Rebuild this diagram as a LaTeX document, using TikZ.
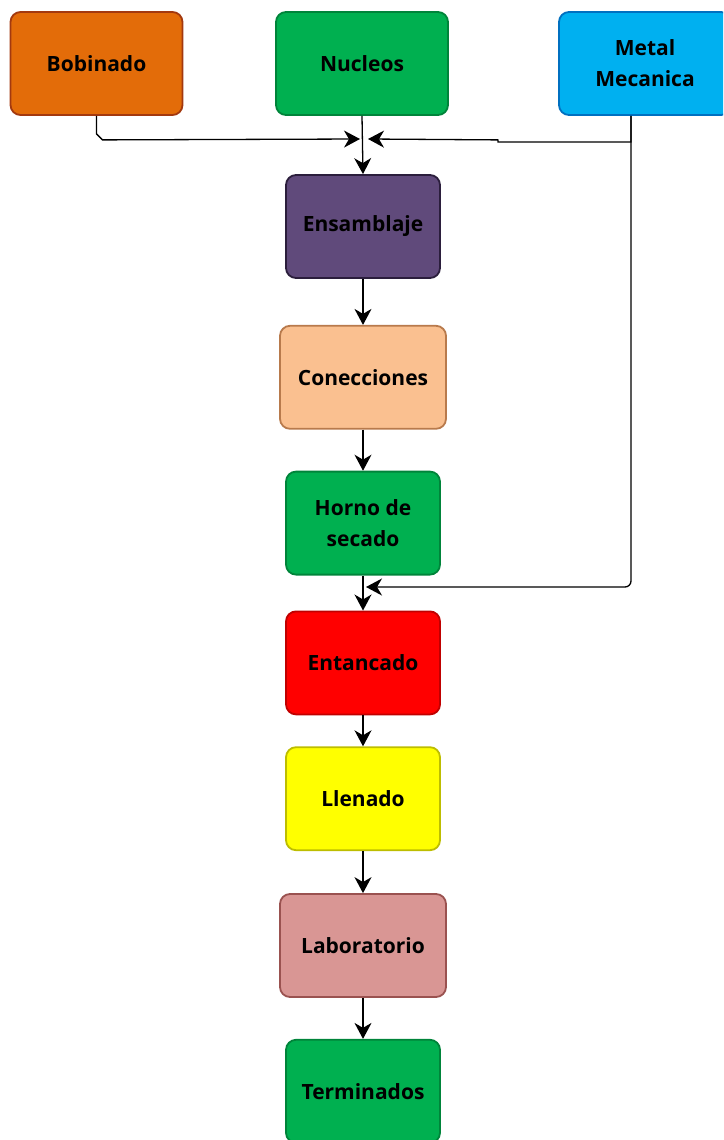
\documentclass[tikz,border=0pt]{standalone}
\usepackage{fontspec}
\setmainfont{Open Sans}
\usetikzlibrary{positioning, arrows.meta}
\definecolor{bobFill}{HTML}{E36C09}
\definecolor{bobLine}{HTML}{A3390F}
\definecolor{greenFill}{HTML}{00B050}
\definecolor{greenLine}{HTML}{00843A}
\definecolor{blueFill}{HTML}{00B0F0}
\definecolor{blueLine}{HTML}{0070C0}
\definecolor{purpleFill}{HTML}{604A7B}
\definecolor{purpleLine}{HTML}{2B1E3C}
\definecolor{peachFill}{HTML}{FAC090}
\definecolor{peachLine}{HTML}{B87A4C}
\definecolor{redFill}{HTML}{FF0000}
\definecolor{redLine}{HTML}{C00000}
\definecolor{yellowFill}{HTML}{FFFF00}
\definecolor{yellowLine}{HTML}{BDBD00}
\definecolor{roseFill}{HTML}{D99694}
\definecolor{roseLine}{HTML}{9A5250}
\tikzset{
	every text node part/.style= {
		align=center
	},
	stage/.style= {
		rectangle,
		rounded corners=10pt,
		draw,
		line width=1.8pt,
		minimum width=154pt,
		minimum height=103pt,
		font=\fontsize{21}{31}\selectfont\bfseries
	},
	wide/.style= {
		minimum width=166pt
	},
	top/.style= {
		minimum width=172pt
	},
	flow/.style= {
		-{Stealth[length=16pt, width=17pt, inset=5pt]},
		line width=1.3pt
	}
}

\begin{document}
\begin{tikzpicture}

	\clip (0,0) rectangle (723pt,-1140pt);

	% sources
	\node (bob)[stage, top, fill=bobFill, draw=bobLine] at (96.5pt,-63.5pt) {Bobinado};
	\node (nuc)[stage, top, fill=greenFill, draw=greenLine] at (362pt,-63.5pt) {Nucleos};
	\node (met)[stage, top, fill=blueFill, draw=blueLine] at (645pt,-63.5pt) {Metal\\Mecanica};

	% main line
	\node (ens)[stage, fill=purpleFill, draw=purpleLine] at (363pt,-226.5pt) {Ensamblaje};
	\node (con)[stage, wide, fill=peachFill, draw=peachLine, below=46pt of ens] {Conecciones};
	\node (hor)[stage, fill=greenFill, draw=greenLine, below=41pt of con] {Horno de\\secado};
	\node (ent)[stage, fill=redFill, draw=redLine, below=35pt of hor] {Entancado};
	\node (lle)[stage, fill=yellowFill, draw=yellowLine, below=31pt of ent] {Llenado};
	\node (lab)[stage, wide, fill=roseFill, draw=roseLine, below=42pt of lle] {Laboratorio};
	\node (ter)[stage, fill=greenFill, draw=greenLine, below=41pt of lab] {Terminados};

	\coordinate (topjoin) at (ens.north |- 0,-139pt);
	\coordinate (lowjoin) at (hor.south |- 0,-587pt);
	\coordinate (metout) at ([xshift=-14pt]met.south);

	\draw[flow](bob.south) -- ++(0,-18pt) -- ++(6pt,-6pt) -- ([xshift=-3pt]topjoin);
	\draw[flow](metout) -- ++(0,-26pt) -- ++(-133pt,0) -- ++(0,2pt) -- ([xshift=5pt]topjoin);
	\draw[flow, rounded corners=6pt](metout) |- ([xshift=3pt]lowjoin);
	\draw[flow](nuc.south) -- (ens.north);

	\draw[flow](ens) -- (con);
	\draw[flow](con) -- (hor);
	\draw[flow](hor) -- (ent);
	\draw[flow](ent) -- (lle);
	\draw[flow](lle) -- (lab);
	\draw[flow](lab) -- (ter);

\end{tikzpicture}
\end{document}
